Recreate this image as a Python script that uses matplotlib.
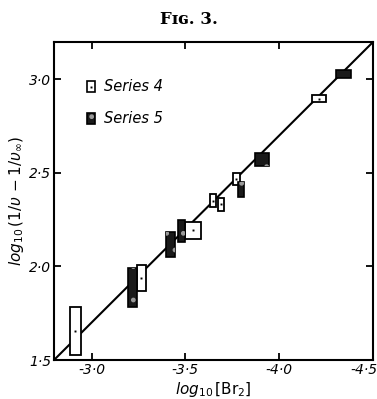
import matplotlib
matplotlib.use("Agg")
import matplotlib.pyplot as plt
from matplotlib.patches import Rectangle
from matplotlib.transforms import ScaledTranslation

# ---- data ----
# Series 4 (open rectangles): x range (log10[Br2]) and y range
s4_x_lo = [-2.885, -3.242, -3.498, -3.631, -3.674, -3.754, -4.175]
s4_x_hi = [-2.944, -3.290, -3.583, -3.663, -3.706, -3.791, -4.249]
s4_y_lo = [1.527, 1.869, 2.147, 2.318, 2.297, 2.436, 2.879]
s4_y_hi = [1.783, 2.008, 2.238, 2.387, 2.366, 2.500, 2.917]

# Series 5 (filled rectangles)
s5_x_lo = [-3.194, -3.397, -3.461, -3.781, -3.871, -4.303]
s5_x_hi = [-3.242, -3.445, -3.498, -3.812, -3.946, -4.383]
s5_y_lo = [1.783, 2.051, 2.131, 2.371, 2.537, 3.008]
s5_y_hi = [1.992, 2.184, 2.248, 2.452, 2.607, 3.050]

# fitted straight line
line_x = [-2.8, -4.5]
line_y = [1.5, 3.2]

x_ticks = [-3.0, -3.5, -4.0, -4.5]
x_ticklabels = ["-3·0", "-3·5", "-4·0", "-4·5"]
y_ticks = [1.5, 2.0, 2.5, 3.0]
y_ticklabels = ["1·5", "2·0", "2·5", "3·0"]

series_labels = ["Series 4", "Series 5"]

plt.rcParams["font.family"] = ["DejaVu Sans"]
plt.rcParams["hatch.linewidth"] = 1.0

fig = plt.figure(figsize=(3.77, 3.99), dpi=100)
ax = fig.add_axes([0.1432, 0.0977, 0.8462, 0.797])

ax.plot(line_x, line_y, color="black", lw=1.5, zorder=2, solid_capstyle="butt")

for xl, xh, yl, yh in zip(s4_x_lo, s4_x_hi, s4_y_lo, s4_y_hi):
    x0, w = min(xl, xh), abs(xh - xl)
    ax.add_patch(Rectangle((x0, yl), w, yh - yl, facecolor="white",
                           edgecolor="black", lw=1.3, zorder=3))
    ax.plot([(xl + xh) / 2], [(yl + yh) / 2], marker="s", ms=1.4, mew=0,
            color="black", zorder=4)

for xl, xh, yl, yh in zip(s5_x_lo, s5_x_hi, s5_y_lo, s5_y_hi):
    x0, w = min(xl, xh), abs(xh - xl)
    ax.add_patch(Rectangle((x0, yl), w, yh - yl, facecolor="#1a1a1a",
                           edgecolor="black", lw=1.2, zorder=3))
    ax.add_patch(Rectangle((x0, yl), w, yh - yl, facecolor="none",
                           edgecolor="#9a9a9a", lw=0, hatch=".", zorder=3.5))

ax.set_xlim(-2.8, -4.5)
ax.set_ylim(1.5, 3.2)
ax.set_xticks(x_ticks)
ax.set_xticklabels(x_ticklabels, fontstyle="italic", fontsize=10)
ax.set_yticks(y_ticks)
ax.set_yticklabels(y_ticklabels, fontstyle="italic", fontsize=10)
ax.tick_params(direction="in", length=5, width=1.3, top=True, right=True,
               pad=2)
for sp in ax.spines.values():
    sp.set_linewidth(1.5)

# keep the last x tick label inside the figure (right-aligned at the edge)
last = ax.get_xticklabels()[-1]
last.set_horizontalalignment("right")
last.set_transform(last.get_transform() +
                   ScaledTranslation(3 / 72, 0, fig.dpi_scale_trans))

ax.set_xlabel(r"$\mathit{log}_{10}\,$[Br$_2$]", fontsize=11, labelpad=2)
ax.set_ylabel(r"$\mathit{log}_{10}\,(1/\upsilon\, - 1/\upsilon_{\infty})$",
              fontsize=11, labelpad=2)

# legend drawn manually
tr = ax.transAxes
ax.add_patch(Rectangle((0.103, 0.843), 0.026, 0.033, transform=tr,
                       facecolor="white", edgecolor="black", lw=1.2,
                       zorder=5))
ax.plot([0.116], [0.8595], marker="s", ms=1.4, mew=0, color="black",
        transform=tr, zorder=6)
ax.add_patch(Rectangle((0.103, 0.742), 0.026, 0.034, transform=tr,
                       facecolor="#1a1a1a", edgecolor="black", lw=1.2,
                       zorder=5))
ax.add_patch(Rectangle((0.103, 0.742), 0.026, 0.034, transform=tr,
                       facecolor="none", edgecolor="#9a9a9a", lw=0,
                       hatch=".", zorder=5.5))
ax.text(0.158, 0.860, series_labels[0], transform=tr, fontstyle="italic",
        fontsize=10.5, va="center", ha="left")
ax.text(0.158, 0.759, series_labels[1], transform=tr, fontstyle="italic",
        fontsize=10.5, va="center", ha="left")

fig.text(0.5, 0.950, "F\u026a\u0262. 3.", ha="center", va="center",
         fontsize=12, fontweight="bold", family=["DejaVu Serif"])

fig.savefig("out.png", dpi=100)
